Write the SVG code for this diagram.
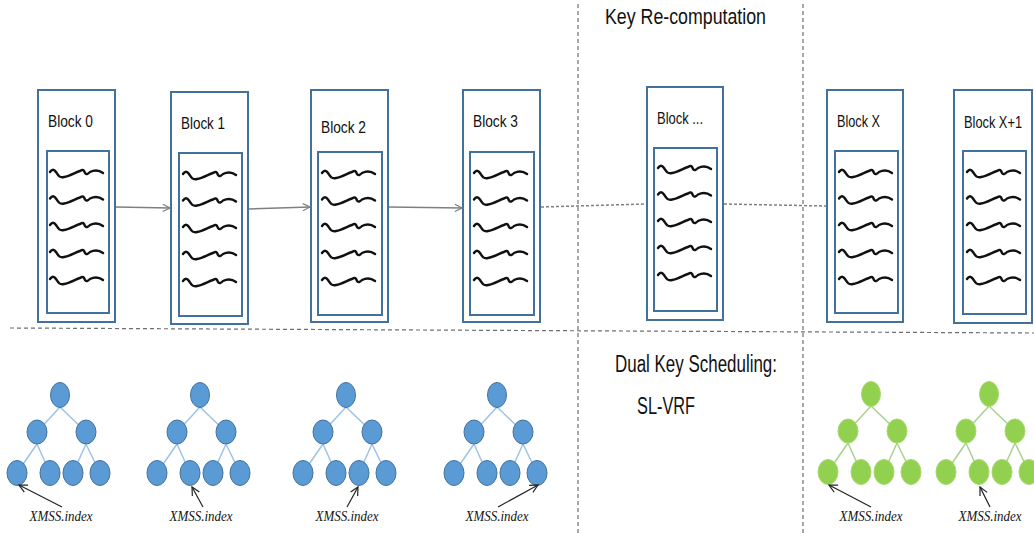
<svg xmlns="http://www.w3.org/2000/svg" xmlns:xlink="http://www.w3.org/1999/xlink" width="1034" height="533" viewBox="0 0 1034 533">
<style>
.outer{fill:#fff;stroke:#41719C;stroke-width:2}
.inner{fill:#fff;stroke:#41719C;stroke-width:2}
.lbl{font-family:"Liberation Sans",Arial,sans-serif;font-size:16px;fill:#111}
.head{font-family:"Liberation Sans",Arial,sans-serif;font-size:22px;fill:#111}
.sq{fill:none;stroke:#111;stroke-width:2.4;stroke-linecap:round;stroke-linejoin:round}
.conn{fill:none;stroke:#7f7f7f;stroke-width:1.5}
.dots{fill:none;stroke:#7f7f7f;stroke-width:1.5;stroke-dasharray:3 2}
.div{fill:none;stroke:#6f6f6f;stroke-width:1.2;stroke-dasharray:4 3}
.ptr{fill:none;stroke:#222;stroke-width:1.2}
.xm{font-family:"Liberation Serif","Times New Roman",serif;font-style:italic;font-size:15px;fill:#111}
.bn{fill:#5B9BD5;stroke:#41719C;stroke-width:1}
.be{stroke:#9DC3E6;stroke-width:1.5}
.gn{fill:#92D050;stroke:#A6D96A;stroke-width:1}
.ge{stroke:#A9D18E;stroke-width:1.5}
</style>
<defs>
<marker id="open" viewBox="0 0 10 10" refX="9" refY="5" markerWidth="9" markerHeight="9" markerUnits="userSpaceOnUse" orient="auto">
<path d="M1,1 L9,5 L1,9" fill="none" stroke="#7f7f7f" stroke-width="1.3"/>
</marker>
<marker id="openK" viewBox="0 0 10 10" refX="9" refY="5" markerWidth="10" markerHeight="10" markerUnits="userSpaceOnUse" orient="auto">
<path d="M1,1 L9,5 L1,9" fill="none" stroke="#222" stroke-width="1.2"/>
</marker>
<path id="sq" class="sq" d="M0,0 C2,-3 4,-3 6,0 S9,6 14,5 C20,4 26,0 30,-1 C33,-3 34,-2 35,1 C36,3 38,2 40,0 C44,-2 49,-2 53,1"/>
<g id="sqs">
<use xlink:href="#sq" y="0"/>
<use xlink:href="#sq" y="26.5"/>
<use xlink:href="#sq" y="53"/>
<use xlink:href="#sq" y="80"/>
<use xlink:href="#sq" y="107"/>
</g>
<g id="treeB">
<g class="be">
<line x1="0" y1="12" x2="-23" y2="37"/><line x1="0" y1="12" x2="26" y2="37"/>
<line x1="-23" y1="49" x2="-43" y2="78"/><line x1="-23" y1="49" x2="-10" y2="78"/>
<line x1="26" y1="49" x2="13" y2="78"/><line x1="26" y1="49" x2="40" y2="78"/>
</g>
<g class="bn">
<ellipse cx="0" cy="0" rx="9.5" ry="12.5"/>
<ellipse cx="-23" cy="37" rx="10" ry="12"/><ellipse cx="26" cy="37" rx="10" ry="12"/>
<ellipse cx="-43" cy="78" rx="10" ry="12.5"/><ellipse cx="-10" cy="78" rx="10" ry="12.5"/>
<ellipse cx="13" cy="78" rx="10" ry="12.5"/><ellipse cx="40" cy="78" rx="10" ry="12.5"/>
</g>
</g>
<g id="treeG">
<g class="ge">
<line x1="0" y1="12" x2="-23" y2="37"/><line x1="0" y1="12" x2="26" y2="37"/>
<line x1="-23" y1="49" x2="-43" y2="78"/><line x1="-23" y1="49" x2="-10" y2="78"/>
<line x1="26" y1="49" x2="13" y2="78"/><line x1="26" y1="49" x2="40" y2="78"/>
</g>
<g class="gn">
<ellipse cx="0" cy="0" rx="9.5" ry="12.5"/>
<ellipse cx="-23" cy="37" rx="10" ry="12"/><ellipse cx="26" cy="37" rx="10" ry="12"/>
<ellipse cx="-43" cy="78" rx="10" ry="12.5"/><ellipse cx="-10" cy="78" rx="10" ry="12.5"/>
<ellipse cx="13" cy="78" rx="10" ry="12.5"/><ellipse cx="40" cy="78" rx="10" ry="12.5"/>
</g>
</g>
</defs>
<rect width="1034" height="533" fill="#fff"/>

<g id="dividers">
<line class="div" x1="10" y1="328" x2="1034" y2="333"/>
<line class="div" x1="578" y1="4" x2="578" y2="533"/>
<line class="div" x1="803" y1="4" x2="803" y2="533"/>
</g>

<g id="headings">
<text class="head" x="605" y="24" textLength="161" lengthAdjust="spacingAndGlyphs">Key Re-computation</text>
<text class="head" x="615" y="372" textLength="162" lengthAdjust="spacingAndGlyphs" style="font-size:23px">Dual Key Scheduling:</text>
<text class="head" x="666" y="414" text-anchor="middle" textLength="58" lengthAdjust="spacingAndGlyphs" style="font-size:23px">SL-VRF</text>
</g>

<g id="block0">
<rect class="outer" x="38" y="90" width="77" height="232"/>
<text class="lbl" x="48" y="127" textLength="45" lengthAdjust="spacingAndGlyphs">Block 0</text>
<rect class="inner" x="47" y="151" width="62" height="162"/>
<use xlink:href="#sqs" x="50" y="172"/>
</g>
<g id="block1">
<rect class="outer" x="171" y="92" width="77" height="232"/>
<text class="lbl" x="181" y="129" textLength="44" lengthAdjust="spacingAndGlyphs">Block 1</text>
<rect class="inner" x="179" y="153" width="63" height="163"/>
<use xlink:href="#sqs" x="183" y="174"/>
</g>
<g id="block2">
<rect class="outer" x="311" y="90" width="77" height="232"/>
<text class="lbl" x="321" y="133" textLength="45" lengthAdjust="spacingAndGlyphs">Block 2</text>
<rect class="inner" x="318" y="152" width="64" height="163"/>
<use xlink:href="#sqs" x="322" y="173"/>
</g>
<g id="block3">
<rect class="outer" x="463" y="90" width="77" height="232"/>
<text class="lbl" x="473" y="127" textLength="45" lengthAdjust="spacingAndGlyphs">Block 3</text>
<rect class="inner" x="470" y="152" width="64" height="163"/>
<use xlink:href="#sqs" x="474" y="173"/>
</g>
<g id="blockDots">
<rect class="outer" x="647" y="87" width="76" height="233"/>
<text class="lbl" x="657" y="124" textLength="46" lengthAdjust="spacingAndGlyphs">Block ...</text>
<rect class="inner" x="654" y="148" width="63" height="163"/>
<use xlink:href="#sqs" x="658" y="168"/>
</g>
<g id="blockX">
<rect class="outer" x="827" y="90" width="76" height="232"/>
<text class="lbl" x="837" y="127" textLength="43" lengthAdjust="spacingAndGlyphs">Block X</text>
<rect class="inner" x="835" y="151" width="63" height="162"/>
<use xlink:href="#sqs" x="839" y="172"/>
</g>
<g id="blockX1">
<rect class="outer" x="954" y="90" width="78" height="233"/>
<text class="lbl" x="964" y="128" textLength="58" lengthAdjust="spacingAndGlyphs">Block X+1</text>
<rect class="inner" x="963" y="151" width="63" height="163"/>
<use xlink:href="#sqs" x="967" y="172"/>
</g>

<g id="connectors">
<line class="conn" x1="116" y1="207" x2="170" y2="208" marker-end="url(#open)"/>
<line class="conn" x1="249" y1="209" x2="310" y2="207" marker-end="url(#open)"/>
<line class="conn" x1="389" y1="207" x2="462" y2="208" marker-end="url(#open)"/>
<line class="dots" x1="541" y1="207" x2="646" y2="204"/>
<line class="dots" x1="724" y1="204" x2="826" y2="206"/>
</g>

<g id="tree1"><use xlink:href="#treeB" x="60" y="395"/></g>
<g id="tree2"><use xlink:href="#treeB" x="200" y="395"/></g>
<g id="tree3"><use xlink:href="#treeB" x="346" y="395"/></g>
<g id="tree4"><use xlink:href="#treeB" x="497" y="395"/></g>
<g id="tree5"><use xlink:href="#treeG" x="871" y="394"/></g>
<g id="tree6"><use xlink:href="#treeG" x="989" y="394"/></g>

<g id="pointers">
<line class="ptr" x1="62" y1="507" x2="19" y2="485" marker-end="url(#openK)"/>
<line class="ptr" x1="203" y1="507" x2="192" y2="487" marker-end="url(#openK)"/>
<line class="ptr" x1="347" y1="507" x2="358" y2="487" marker-end="url(#openK)"/>
<line class="ptr" x1="498" y1="507" x2="538" y2="485" marker-end="url(#openK)"/>
<line class="ptr" x1="871" y1="507" x2="829" y2="485" marker-end="url(#openK)"/>
<line class="ptr" x1="990" y1="507" x2="980" y2="487" marker-end="url(#openK)"/>
</g>

<g id="labels">
<text class="xm" x="61" y="521" text-anchor="middle" textLength="63" lengthAdjust="spacingAndGlyphs">XMSS.index</text>
<text class="xm" x="201" y="521" text-anchor="middle" textLength="63" lengthAdjust="spacingAndGlyphs">XMSS.index</text>
<text class="xm" x="347" y="521" text-anchor="middle" textLength="63" lengthAdjust="spacingAndGlyphs">XMSS.index</text>
<text class="xm" x="497" y="521" text-anchor="middle" textLength="63" lengthAdjust="spacingAndGlyphs">XMSS.index</text>
<text class="xm" x="871" y="521" text-anchor="middle" textLength="63" lengthAdjust="spacingAndGlyphs">XMSS.index</text>
<text class="xm" x="990" y="521" text-anchor="middle" textLength="63" lengthAdjust="spacingAndGlyphs">XMSS.index</text>
</g>
</svg>
